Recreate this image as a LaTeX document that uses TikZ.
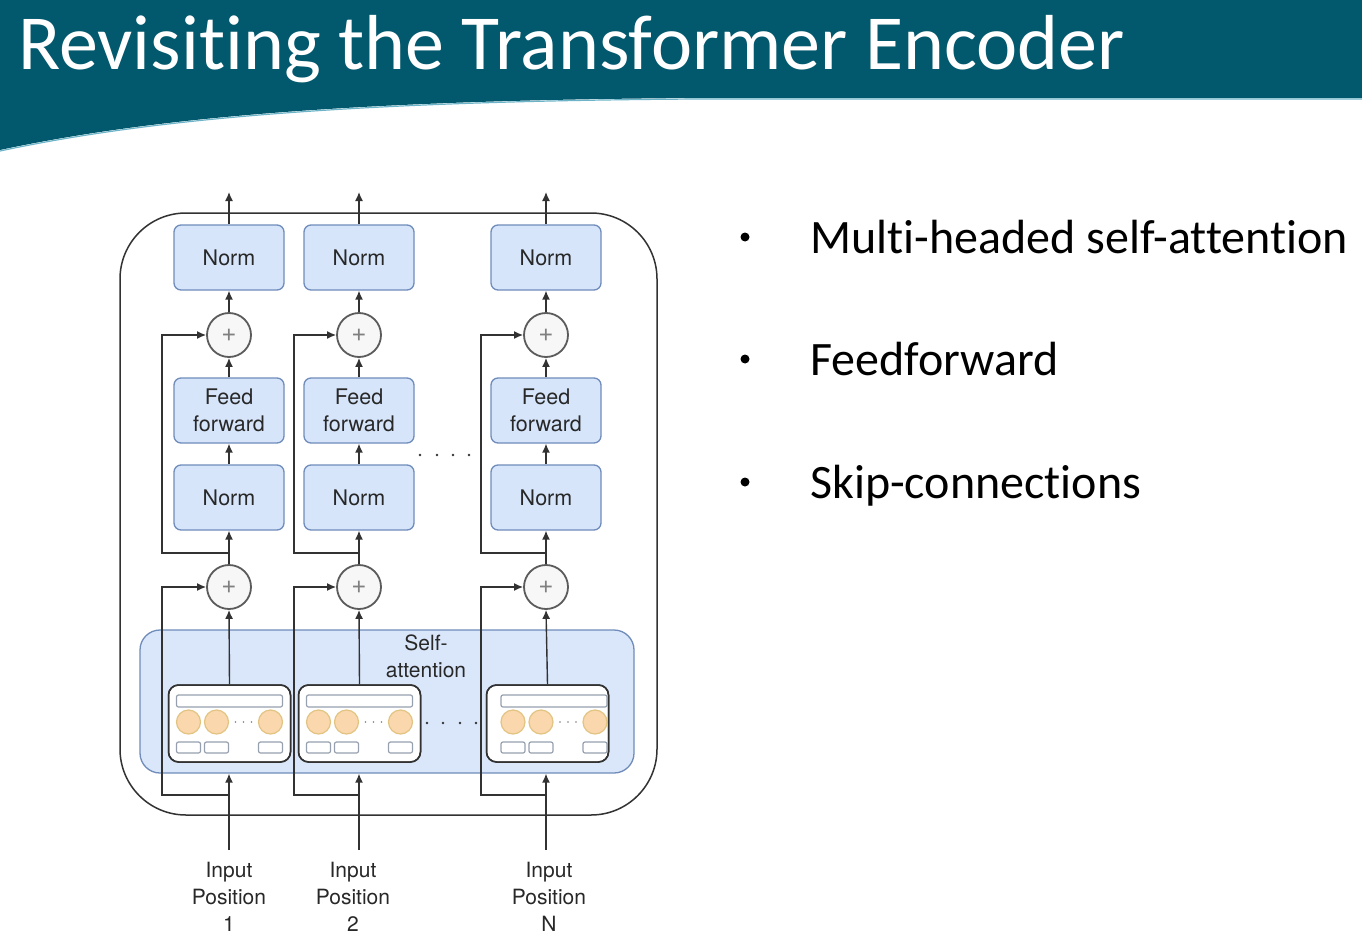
\documentclass[tikz,border=0pt]{standalone}
\usepackage{fontspec}
\setmainfont{Carlito}[Ligatures={NoCommon}]
\newfontfamily\hv{TeX Gyre Heros}
\usetikzlibrary{arrows.meta,calc}
\definecolor{bandcol}{RGB}{2,88,108}
\definecolor{bandedge}{RGB}{110,180,200}
\definecolor{boxf}{RGB}{214,229,250}
\definecolor{boxb}{RGB}{112,140,186}
\definecolor{linec}{RGB}{50,50,50}
\definecolor{txtc}{RGB}{40,40,40}
\definecolor{circf}{RGB}{250,215,172}
\definecolor{circb}{RGB}{226,196,130}
\definecolor{smallb}{RGB}{150,160,175}
\tikzset{
  arr/.style={draw=linec, line width=1.4pt, -{Latex[length=9pt,width=8pt]}},
  bluebox/.style={draw=boxb, fill=boxf, rounded corners=7pt, line width=1.3pt,
    minimum width=110pt, minimum height=65pt, text=txtc, align=center,
    font=\hv\fontsize{21.5}{27}\selectfont},
  plusnode/.style={circle, draw=linec!80, fill=gray!6, line width=1.8pt,
    minimum size=44pt, inner sep=0pt, text=gray, font=\hv\fontsize{26}{26}\selectfont},
  subbox/.style={draw=linec, fill=white, rounded corners=10pt, line width=1.5pt,
    minimum width=122pt, minimum height=77pt},
  lbl/.style={align=center, text=txtc, font=\hv\fontsize{21}{27}\selectfont},
  bullettext/.style={anchor=base west, text=black, font=\fontsize{48}{52}\selectfont},
}
\begin{document}
\begin{tikzpicture}[x=1pt,y=-1pt]
\useasboundingbox (0,0) rectangle (1362,942);
\fill[white] (0,0) rectangle (1362,942);
% title band
\fill[bandcol] (0,0) -- (1362,0) -- (1362,98) -- (700,98) .. controls (350,100) and (150,118) .. (0,150) -- cycle;
\draw[bandedge, line width=1.2pt] (1362,99) -- (700,99) .. controls (350,101) and (150,119) .. (0,151);
\node[anchor=base west, text=white, inner sep=0pt, font=\fontsize{78}{80}\selectfont] (title) at (18,70) {Revisiting the Transformer Encoder};

% bullets
\foreach \yy/\t [count=\k] in {253/Multi-headed self-attention, 375/Feedforward, 498/Skip-connections}{
  \fill (745,\yy-16) circle (4.5pt);
  \node[bullettext, inner sep=0pt] (bt\k) at (810,\yy) {\t};
}

% outer encoder box
\node[draw=linec, line width=1.5pt, rounded corners=66pt, minimum width=537pt, minimum height=602pt] (enc) at (388.5,514) {};

% self-attention box
\node[draw=boxb, fill=boxf, fill opacity=0.9, rounded corners=20pt, line width=1.3pt,
  minimum width=494pt, minimum height=143pt] (sa) at (387,701.5) {};
\node[lbl] (salbl) at (426,656) {Self-\\attention};

% columns
\foreach \i/\cx/\sk/\lx/\lab in {1/229/162/229/1, 2/359/294/353/2, 3/546/481/549/N}{
  \node[bluebox] (nt\i) at (\cx,257.5) {Norm};
  \node[plusnode] (pu\i) at (\cx,335) {+};
  \node[bluebox] (ff\i) at (\cx,410.5) {Feed\\forward};
  \node[bluebox] (nl\i) at (\cx,497.5) {Norm};
  \node[plusnode] (pl\i) at (\cx,587) {+};
  \coordinate (out\i) at (\cx,192);
  \coordinate (b\i) at (\cx,553);
  \coordinate (c\i) at (\cx,795);
  \coordinate (in\i) at (\cx,850);
  \draw[arr] (nt\i.north) -- (out\i);
  \draw[arr] (pu\i.north) -- (nt\i.south);
  \draw[arr] (ff\i.north) -- (pu\i.south);
  \draw[arr] (nl\i.north) -- (ff\i.south);
  \draw[arr] (pl\i.north) -- (nl\i.south);
  \draw[arr] (b\i) -- (\sk,553) |- (pu\i.west);
  \draw[arr] (in\i) -- (in\i |- sa.south);
  \draw[arr] (c\i) -- (\sk,795) |- (pl\i.west);
  \node[lbl, anchor=base] (lab\i) at (\lx,931) {Input\\Position\\\lab};
}

% attention sub-boxes
\foreach \i/\cx/\sh in {1/229.5/0, 2/359.5/0, 3/547.5/6.5}{
  \node[subbox] (sub\i) at (\cx,723.5) {};
  \draw[arr] (sub\i.north) -- (pl\i.south);
  \begin{scope}
    \clip[rounded corners=10pt] (sub\i.south west) rectangle (sub\i.north east);
    \draw[smallb, line width=1.2pt, fill=white, rounded corners=2pt] (\cx+\sh-53,695) rectangle (\cx+\sh+53,707);
    \foreach \dx in {-41,-13,41}{
      \draw[circb, fill=circf, line width=1.2pt] (\cx+\sh+\dx,722) circle (12pt);
    }
    \foreach \dx in {6,14,22}{
      \fill[gray] (\cx+\sh+\dx,722) circle (0.9pt);
    }
    \foreach \a/\b in {-53/-29, -25/-1, 29/53}{
      \draw[smallb, line width=1.2pt, fill=white, rounded corners=2pt] (\cx+\sh+\a,742) rectangle (\cx+\sh+\b,753);
    }
  \end{scope}
  \node[subbox, fill=none] (subf\i) at (\cx,723.5) {};
}

% ellipsis dots
\foreach \xx in {420,437,453,469}{ \fill[linec] (\xx,455) circle (1.3pt); }
\foreach \xx in {427,443,460,476}{ \fill[linec] (\xx,723) circle (1.3pt); }
\end{tikzpicture}
\end{document}
